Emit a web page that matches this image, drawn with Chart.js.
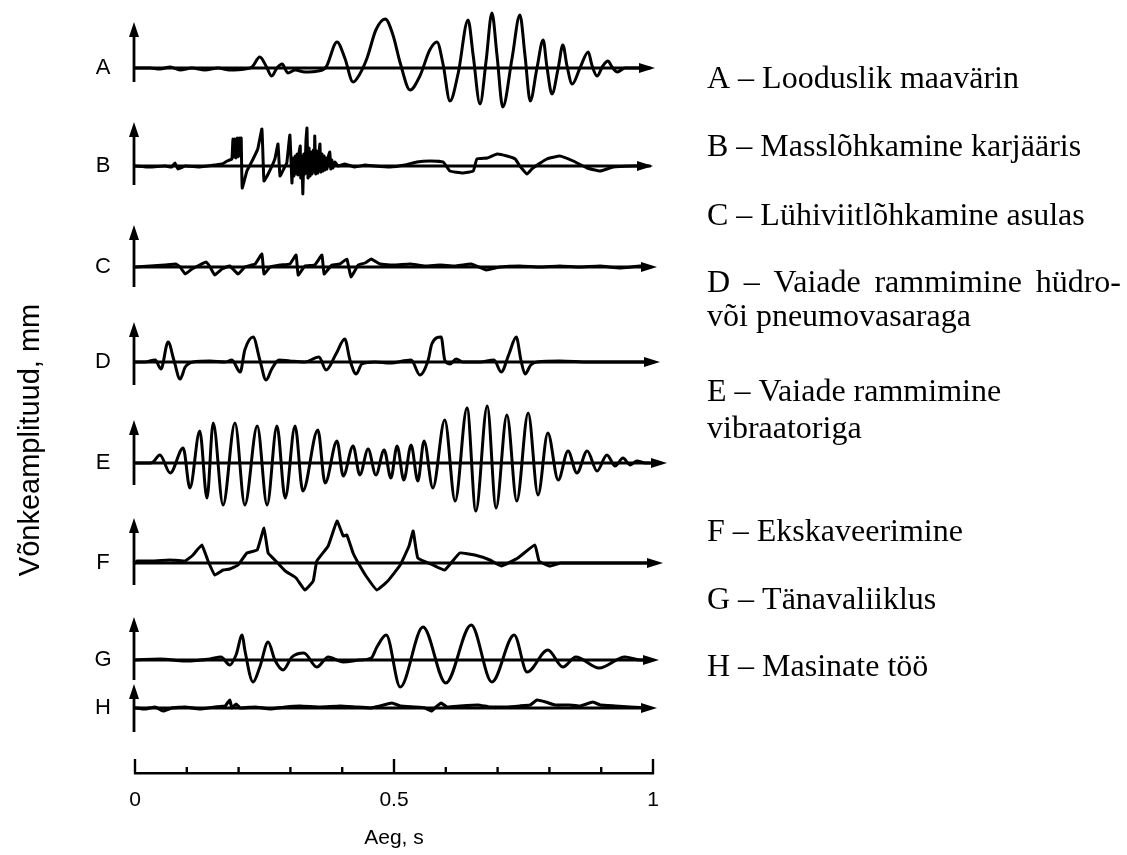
<!DOCTYPE html>
<html>
<head>
<meta charset="utf-8">
<script src="https://cdn.jsdelivr.net/npm/chart.js@4.4.0/dist/chart.umd.min.js"></script>
<style>
  html, body { margin: 0; padding: 0; background: #fff; }
  #wrap { position: relative; width: 1127px; height: 855px; }
  canvas { display: block; }
</style>
</head>
<body>
<div id="wrap"><canvas id="chart" width="1127" height="855"></canvas></div>
<script>
// Seismogram records, time in s, amplitude in mm
const tA = [0,0.029,0.048,0.068,0.087,0.110,0.135,0.160,0.183,0.212,0.226,0.241,0.253,0.264,0.274,0.284,0.295,0.309,0.328,0.353,0.369,0.390,0.405,0.421,0.434,0.448,0.465,0.483,0.498,0.512,0.531,0.550,0.569,0.583,0.595,0.608,0.624,0.643,0.653,0.666,0.678,0.689,0.699,0.710,0.728,0.743,0.753,0.763,0.776,0.788,0.795,0.805,0.817,0.826,0.834,0.844,0.859,0.875,0.882,0.892,0.903,0.913,0.921,0.931,0.946,0.994];
const aA = [0,0,-1,1,-2,0,-2,0,-2,-1,1,11,2,-8,0,4,-5,-2,-4,-3,1,26,10,-14,-6,10,38,49,33,5,-22,-8,18,26,3,-33,-5,48,12,-36,8,55,12,-39,10,53,12,-33,0,28,2,-26,0,23,2,-16,0,16,3,-8,2,7,1,-4,0,0];

const tB = [0,0.029,0.058,0.071,0.077,0.083,0.097,0.125,0.154,0.168,0.178,
  0.187,0.189,0.191,0.193,0.195,0.197,0.199,0.201,0.203,0.205,0.207,
  0.216,0.228,0.237,0.245,0.249,0.257,0.270,0.276,0.280,0.288,0.293,0.299,
  0.303,0.305,0.307,0.309,0.311,0.313,0.315,0.317,0.319,0.320,0.322,0.324,0.326,0.328,0.330,0.332,0.334,0.336,0.338,0.340,0.342,0.344,0.346,0.347,0.349,0.351,0.353,0.355,0.357,0.359,0.361,0.363,0.365,0.367,0.369,0.371,0.373,0.376,0.378,0.380,0.382,0.386,0.392,
  0.405,0.425,0.444,0.463,0.492,0.521,0.544,0.569,0.595,0.608,0.633,0.653,0.660,0.680,0.699,0.718,0.734,0.743,0.757,0.768,0.795,0.820,0.846,0.873,0.898,0.923,0.961,0.994];
const aB = [0,-1,0,-1,3,-3,0,-1,1,2,5,
  7,27,9,27,8,28,9,28,10,28,-22,
  -5,7,17,37,-15,-8,7,22,-10,-2,3,31,
  -17,8,-10,10,-8,12,-9,14,20,-12,10,-28,12,-8,25,38,-12,18,-10,14,-8,16,-6,30,-8,15,-7,12,22,-6,12,-5,10,-4,8,-3,9,14,-3,6,-2,4,0,
  2,-1,1,0,-1,1,4,5,4,-5,-7,-5,7,8,12,10,7,0,-8,-2,7,10,5,-2,-5,-1,0,0];

const tC = [0,0.029,0.058,0.079,0.087,0.097,0.110,0.125,0.137,0.145,0.154,0.168,0.183,0.199,0.212,0.232,0.245,0.249,0.261,0.280,0.299,0.311,0.315,0.328,0.347,0.361,0.365,0.380,0.396,0.409,0.417,0.431,0.444,0.456,0.473,0.502,0.531,0.560,0.589,0.618,0.649,0.678,0.705,0.743,0.782,0.820,0.859,0.898,0.936,0.975,0.994];
const aC = [0,1,2,3,0,-7,-2,2,5,0,-8,-2,1,-7,0,3,13,-7,0,2,3,12,-8,1,2,12,-7,2,3,8,-10,2,4,8,3,2,3,1,2,1,3,-3,0,1,0,1,0,1,-1,1,0];

const tD = [0,0.019,0.039,0.050,0.064,0.075,0.087,0.097,0.112,0.145,0.174,0.187,0.203,0.212,0.228,0.241,0.253,0.264,0.278,0.299,0.328,0.355,0.369,0.388,0.405,0.415,0.427,0.438,0.463,0.492,0.533,0.550,0.566,0.573,0.591,0.598,0.608,0.620,0.633,0.666,0.693,0.707,0.722,0.736,0.745,0.753,0.764,0.776,0.820,0.878,0.936,0.994];
const aD = [0,0,2,-7,20,2,-17,-5,0,1,0,2,-10,12,25,2,-18,-7,2,1,0,5,-8,8,23,2,-12,-2,0,-1,2,-13,2,18,25,2,-2,3,0,0,2,-10,8,25,2,-12,-3,0,1,0,0,0];

const tE = [0,0.029,0.035,0.048,0.068,0.093,0.106,0.125,0.139,0.151,0.170,0.193,0.212,0.236,0.255,0.274,0.290,0.309,0.324,0.353,0.367,0.390,0.402,0.421,0.434,0.450,0.465,0.481,0.494,0.506,0.519,0.533,0.546,0.558,0.575,0.598,0.618,0.641,0.658,0.680,0.697,0.718,0.737,0.759,0.778,0.797,0.817,0.836,0.853,0.873,0.892,0.911,0.927,0.942,0.956,0.969,0.985,0.994];
const aE = [0,0,1,8,-10,15,-25,32,-35,40,-42,40,-42,37,-42,37,-35,37,-28,33,-20,22,-13,17,-12,14,-12,13,-15,17,-17,18,-18,22,-25,43,-38,55,-48,57,-45,48,-38,50,-32,30,-17,12,-10,12,-8,8,-3,5,-2,2,0,0];

const tF = [0,0.004,0.029,0.068,0.097,0.112,0.129,0.141,0.154,0.170,0.183,0.199,0.216,0.236,0.249,0.257,0.270,0.290,0.311,0.328,0.344,0.351,0.373,0.390,0.402,0.409,0.421,0.431,0.446,0.467,0.488,0.512,0.529,0.537,0.546,0.575,0.598,0.627,0.656,0.685,0.707,0.739,0.772,0.780,0.801,0.822,0.898,0.994];
const aF = [0,2,2,3,2,8,18,2,-12,-7,-6,-2,10,13,35,10,3,-8,-15,-27,-18,2,17,42,27,28,10,0,-13,-27,-18,-2,17,32,5,-2,-7,10,8,3,-3,5,18,2,-3,0,0,0];

const tG = [0,0.048,0.097,0.145,0.166,0.183,0.195,0.207,0.212,0.228,0.241,0.257,0.270,0.286,0.303,0.326,0.351,0.373,0.402,0.434,0.456,0.467,0.485,0.512,0.556,0.600,0.649,0.689,0.732,0.757,0.797,0.826,0.851,0.896,0.946,0.975,0.994];
const aG = [0,1,-1,1,3,-5,5,25,10,-22,-7,18,0,-10,3,7,-7,3,-2,0,2,13,25,-27,33,-23,35,-22,25,-12,10,-7,3,-8,3,0,0];

const tH = [0,0.019,0.039,0.054,0.071,0.097,0.125,0.154,0.174,0.183,0.187,0.195,0.203,0.232,0.261,0.290,0.319,0.357,0.396,0.425,0.454,0.473,0.496,0.512,0.541,0.560,0.573,0.581,0.591,0.602,0.627,0.662,0.685,0.714,0.743,0.763,0.776,0.793,0.811,0.838,0.859,0.884,0.898,0.927,0.956,0.994];
const aH = [0,-1,1,-3,0,1,-1,1,2,8,0,4,0,1,-1,1,2,1,2,1,0,2,5,2,1,0,-3,1,5,1,2,3,1,1,2,3,8,6,3,3,2,6,3,2,1,0];

const recordLetters = ['A', 'B', 'C', 'D', 'E', 'F', 'G', 'H'];
const legendLines = [
  ['A – Looduslik maavärin'],
  ['B – Masslõhkamine karjääris'],
  ['C – Lühiviitlõhkamine asulas'],
  ['D – Vaiade rammimine hüdro-', 'või pneumovasaraga'],
  ['E – Vaiade rammimine', 'vibraatoriga'],
  ['F – Ekskaveerimine'],
  ['G – Tänavaliiklus'],
  ['H – Masinate töö']
];
const timeTicks = [0, 0.1, 0.2, 0.3, 0.4, 0.5, 0.6, 0.7, 0.8, 0.9, 1];
const timeTickLabels = { 0: '0', 0.5: '0.5', 1: '1' };
const xTitle = 'Aeg, s';
const yTitle = 'Võnkeamplituud, mm';

// layout of the stacked records (pixels)
const lanes = [
  { base: 68,  up: 46, down: 14, tip: 655 },
  { base: 166, up: 44, down: 19, tip: 653 },
  { base: 267, up: 42, down: 20, tip: 657 },
  { base: 362, up: 40, down: 23, tip: 660 },
  { base: 463, up: 43, down: 22, tip: 667 },
  { base: 563, up: 45, down: 22, tip: 663 },
  { base: 660, up: 43, down: 20, tip: 659 },
  { base: 708, up: 24, down: 24, tip: 657 }
];
const legendY = [[80], [148], [217], [284, 318], [393, 430], [533], [601], [668]];
const LEGEND_X = 707;
const JUSTIFY_TO = 1121; // right edge of the wrapped (justified) first line of D
const AXIS_X = 134;
const AXIS_H = 82; // height of the bottom time axis box
const SMOOTH = [true, false, false, true, true, false, true, false];
const SANS = '"Liberation Sans", Arial, sans-serif';

const records = [[tA, aA], [tB, aB], [tC, aC], [tD, aD], [tE, aE], [tF, aF], [tG, aG], [tH, aH]];

const datasets = records.map(function (r, i) {
  const t = r[0], a = r[1];
  return {
    label: recordLetters[i],
    data: t.map(function (v, k) { return { x: v, y: a[k] - lanes[i].base }; }),
    borderColor: '#000',
    borderWidth: i === 7 ? 3.2 : 3,
    borderJoinStyle: 'round',
    borderCapStyle: 'round',
    pointRadius: 0,
    fill: false,
    clip: false,
    tension: SMOOTH[i] ? 0.4 : 0.1,
    cubicInterpolationMode: SMOOTH[i] ? 'monotone' : 'default'
  };
});

function drawJustified(ctx, text, x, y, right) {
  const words = text.split(' ');
  let used = 0;
  words.forEach(function (w) { used += ctx.measureText(w).width; });
  const gap = (right - x - used) / (words.length - 1);
  let cx = x;
  words.forEach(function (w) {
    ctx.fillText(w, cx, y);
    cx += ctx.measureText(w).width + gap;
  });
}

const decor = {
  id: 'decor',
  beforeDatasetsDraw(chart) {
    const ctx = chart.ctx;
    const ys = chart.scales.y;
    ctx.save();
    ctx.fillStyle = '#000';
    ctx.strokeStyle = '#000';
    ctx.lineWidth = 2.8;
    lanes.forEach(function (l, i) {
      const yb = ys.getPixelForValue(-l.base);
      // time axis of the record
      ctx.beginPath();
      ctx.moveTo(AXIS_X, yb);
      ctx.lineTo(l.tip - 10, yb);
      ctx.stroke();
      ctx.beginPath();
      ctx.moveTo(l.tip, yb);
      ctx.lineTo(l.tip - 16, yb - 5);
      ctx.lineTo(l.tip - 16, yb + 5);
      ctx.closePath();
      ctx.fill();
      // amplitude arrow
      const top = yb - l.up;
      ctx.beginPath();
      ctx.moveTo(AXIS_X, yb + l.down);
      ctx.lineTo(AXIS_X, top + 10);
      ctx.stroke();
      ctx.beginPath();
      ctx.moveTo(AXIS_X, top);
      ctx.lineTo(AXIS_X - 5, top + 15);
      ctx.lineTo(AXIS_X + 5, top + 15);
      ctx.closePath();
      ctx.fill();
      // letter
      ctx.font = '22px ' + SANS;
      ctx.textAlign = 'center';
      ctx.textBaseline = 'middle';
      ctx.fillText(recordLetters[i], 103, yb);
    });
    ctx.restore();
  },
  afterDraw(chart) {
    const ctx = chart.ctx;
    const xs = chart.scales.x;
    ctx.save();
    ctx.strokeStyle = '#000';
    ctx.fillStyle = '#000';
    // upward ticks of the bottom time axis
    ctx.lineWidth = 2.4;
    const yAxis = xs.top;
    timeTicks.forEach(function (v) {
      const px = xs.getPixelForValue(v);
      const h = (v === 0 || v === 1 || v === 0.5) ? 14 : 6;
      ctx.beginPath();
      ctx.moveTo(px, yAxis + 1);
      ctx.lineTo(px, yAxis - h);
      ctx.stroke();
    });
    // y title
    ctx.font = '29px ' + SANS;
    ctx.textAlign = 'center';
    ctx.textBaseline = 'middle';
    ctx.translate(31, 440);
    ctx.rotate(-Math.PI / 2);
    ctx.fillText(yTitle, 0, 0);
    ctx.setTransform(1, 0, 0, 1, 0, 0);
    // legend text
    ctx.font = '32px "Liberation Serif", "Times New Roman", serif';
    ctx.textAlign = 'left';
    legendLines.forEach(function (lines, i) {
      lines.forEach(function (s, j) {
        if (i === 3 && j === 0) {
          drawJustified(ctx, s, LEGEND_X, legendY[i][j], JUSTIFY_TO);
        } else {
          ctx.fillText(s, LEGEND_X, legendY[i][j]);
        }
      });
    });
    ctx.restore();
  }
};

new Chart(document.getElementById('chart'), {
  type: 'line',
  data: { datasets: datasets },
  options: {
    responsive: false,
    animation: false,
    events: [],
    layout: { padding: { left: 135, right: 474, top: 0, bottom: 0 } },
    plugins: { legend: { display: false }, tooltip: { enabled: false } },
    scales: {
      x: {
        type: 'linear',
        min: 0,
        max: 1,
        afterFit: function (scale) { scale.height = AXIS_H; },
        grid: { display: false, drawTicks: false, tickLength: 0 },
        border: { display: true, color: '#000', width: 2.6 },
        ticks: {
          stepSize: 0.1,
          autoSkip: false,
          maxRotation: 0,
          padding: 15,
          color: '#000',
          font: { family: SANS, size: 21 },
          callback: function (v) {
            const key = Math.round(v * 10) / 10;
            return timeTickLabels[key] !== undefined ? timeTickLabels[key] : '';
          }
        },
        title: {
          display: true,
          text: xTitle,
          color: '#000',
          font: { family: SANS, size: 21 },
          padding: { top: 10, bottom: 4 }
        }
      },
      y: {
        type: 'linear',
        display: false,
        min: -773,
        max: 0
      }
    }
  },
  plugins: [decor]
});
</script>
</body>
</html>
